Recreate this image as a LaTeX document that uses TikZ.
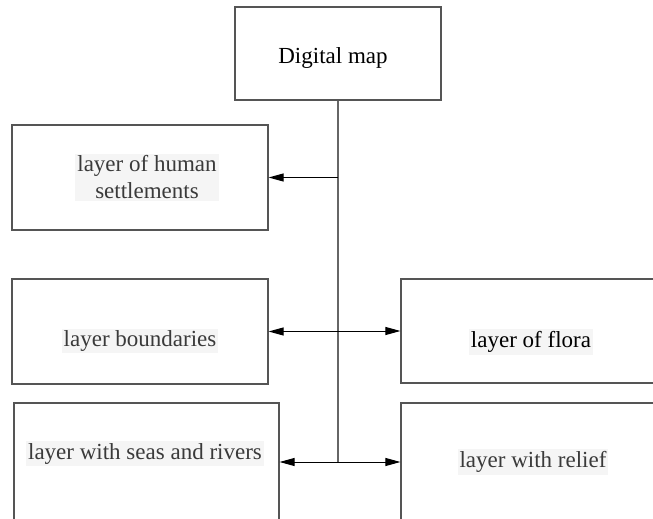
\documentclass[tikz,border=0pt]{standalone}
\usepackage{fontspec}
\setmainfont{Liberation Serif}
\usetikzlibrary{arrows.meta}
\definecolor{boxline}{HTML}{555555}
\definecolor{trunkline}{HTML}{666666}
\definecolor{hlgray}{HTML}{F5F5F5}
\definecolor{txtgray}{HTML}{3A3A3A}

\begin{document}
\begin{tikzpicture}[x=0.5pt,y=-0.5pt,
		layerbox/.style={draw=boxline,line width=0.6pt,inner sep=0pt},
		labeltext/.style={fill=hlgray,text=txtgray,inner sep=1pt,align=center,
			font=\fontsize{11.5}{13.5}\selectfont},
		arr/.style={-{Triangle[length=7.5pt,width=4pt]},line width=0.5pt,black}]
		\useasboundingbox (0,0) rectangle (653,519);
		\clip (0,0) rectangle (653,519);
		\node[layerbox,minimum width=103pt,minimum height=46.5pt,
			label={[font=\fontsize{11.5}{13.5}\selectfont,xshift=-2.5pt,yshift=-2.5pt]center:Digital map}] (map) at (338,53.5) {};
		\node[layerbox,minimum width=128pt,minimum height=52.5pt,
			label={[labeltext,xshift=3.5pt]center:layer of human\\settlements}] (settle) at (140,177.5) {};
		\node[layerbox,minimum width=128pt,minimum height=52.5pt,
			label={[labeltext,yshift=-4.75pt]center:layer boundaries}] (bound) at (140,331.5) {};
		\node[layerbox,minimum width=130pt,minimum height=52pt,
			label={[labeltext,text=black,yshift=-5.5pt]center:layer of flora}] (flora) at (531,331) {};
		\node[layerbox,minimum width=132.5pt,minimum height=63.5pt,
			label={[labeltext,xshift=-0.75pt,yshift=6.5pt]center:layer with seas and rivers}] (seas) at (146.5,466.5) {};
		\node[layerbox,minimum width=130pt,minimum height=63.5pt,
			label={[labeltext,xshift=1pt,yshift=2.25pt]center:layer with relief}] (relief) at (531,466.5) {};
		\coordinate (tbot) at (map.south |- 0,462);
		\draw[trunkline,line width=0.6pt] (map.south) -- (tbot);
		\draw[arr] (map.south |- settle.east) -- (settle.east);
		\draw[arr] (map.south |- bound.east) -- (bound.east);
		\draw[arr] (map.south |- flora.west) -- (flora.west);
		\draw[arr] (tbot) -- (tbot -| seas.east);
		\draw[arr] (tbot) -- (tbot -| relief.west);
	\end{tikzpicture}
\end{document}
